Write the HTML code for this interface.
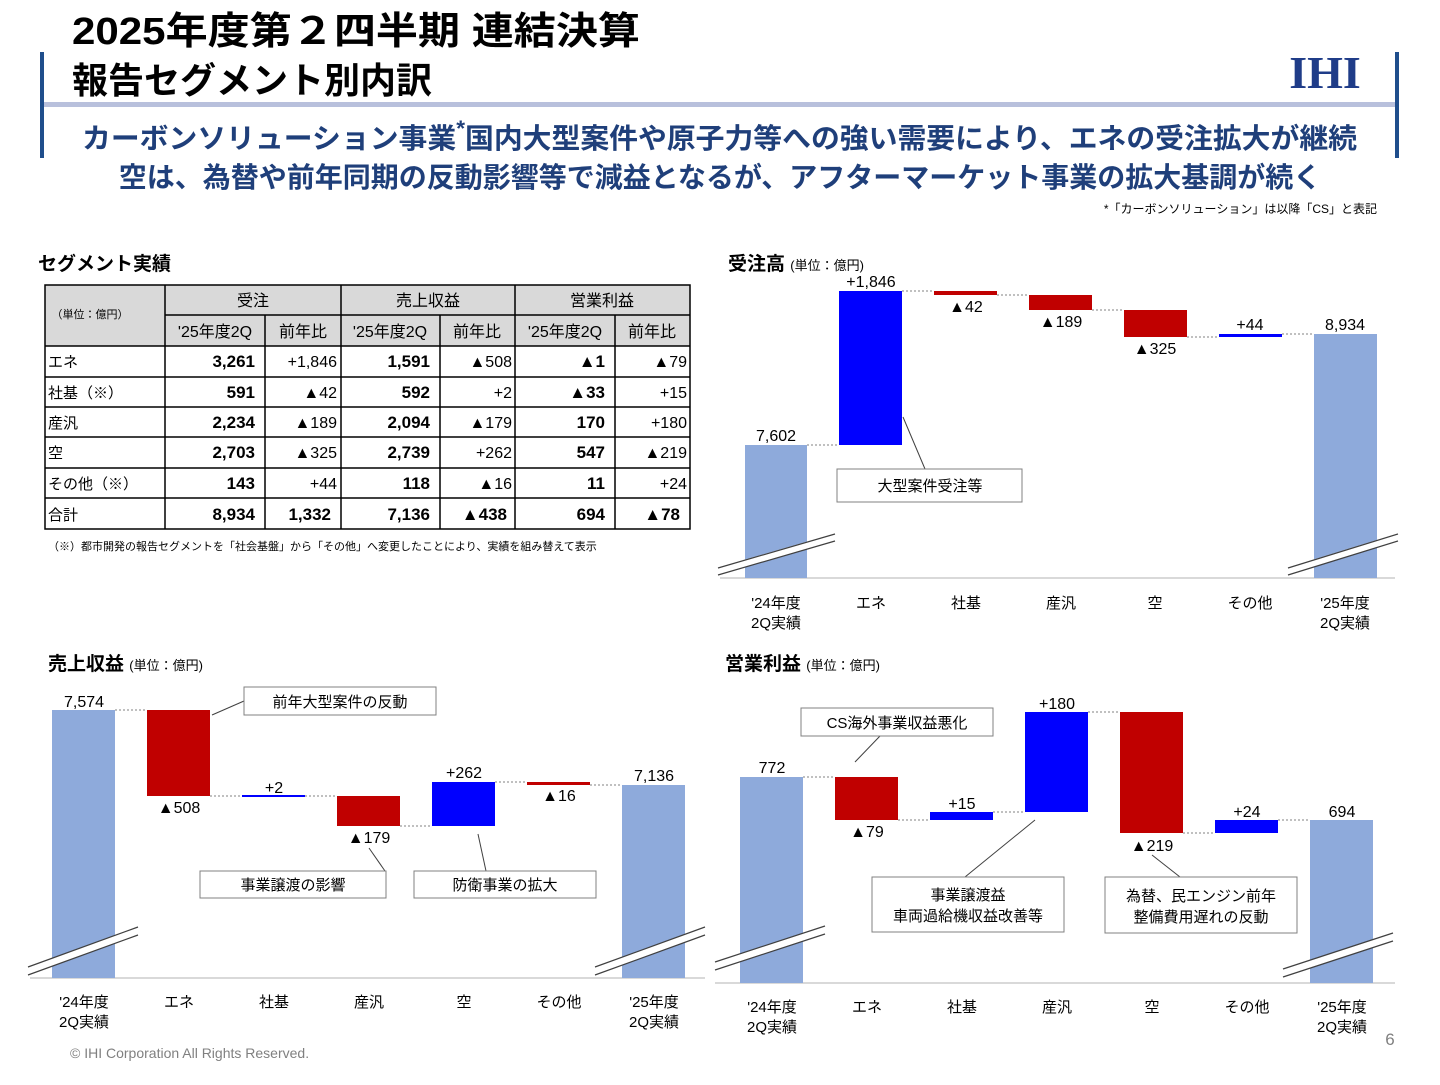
<!DOCTYPE html>
<html><head><meta charset="utf-8"><style>
body{margin:0;background:#fff;}
svg text{font-family:"Liberation Sans","Noto Sans CJK JP",sans-serif;}
</style></head><body>
<svg width="1440" height="1080" viewBox="0 0 1440 1080" xmlns="http://www.w3.org/2000/svg">
<!-- header -->
<text x="72" y="44" font-size="38" font-weight="bold" fill="#000" textLength="568" lengthAdjust="spacingAndGlyphs">2025年度第２四半期 連結決算</text>
<text x="72" y="93" font-size="36" font-weight="bold" fill="#000">報告セグメント別内訳</text>
<rect x="40" y="52" width="4" height="106" fill="#1f4e8c"/>
<rect x="1395" y="52" width="4" height="106" fill="#1f4e8c"/>
<rect x="44" y="102" width="1351" height="5" fill="#b8c0dc"/>
<text x="1325" y="88" font-size="46" font-weight="bold" fill="#1f3c88" text-anchor="middle" style="font-family:'Liberation Serif',serif">IHI</text>
<text x="82" y="148" font-size="28" font-weight="bold" fill="#1f3f7a" textLength="1275" lengthAdjust="spacingAndGlyphs">カーボンソリューション事業<tspan font-size="22" dy="-12">*</tspan><tspan dy="12">国内大型案件や原子力等への強い需要により、エネの受注拡大が継続</tspan></text>
<text x="720" y="187" font-size="28" font-weight="bold" fill="#1f3f7a" text-anchor="middle">空は、為替や前年同期の反動影響等で減益となるが、アフターマーケット事業の拡大基調が続く</text>
<text x="1377" y="213" font-size="12" fill="#000" text-anchor="end">*「カーボンソリューション」は以降「CS」と表記</text>

<!-- table -->
<text x="38" y="270" font-size="19" font-weight="bold">セグメント実績</text>
<rect x="45" y="285" width="645" height="61" fill="#d9d9d9"/>
<g stroke="#000" stroke-width="1.5" fill="none">
<rect x="45" y="285" width="645" height="244"/>
<line x1="165" y1="285" x2="165" y2="529"/>
<line x1="341" y1="285" x2="341" y2="529"/>
<line x1="515" y1="285" x2="515" y2="529"/>
<line x1="265" y1="315" x2="265" y2="529"/>
<line x1="440" y1="315" x2="440" y2="529"/>
<line x1="615" y1="315" x2="615" y2="529"/>
<line x1="165" y1="315" x2="690" y2="315"/>
<line x1="45" y1="346" x2="690" y2="346"/>
<line x1="45" y1="377" x2="690" y2="377"/>
<line x1="45" y1="407" x2="690" y2="407"/>
<line x1="45" y1="437" x2="690" y2="437"/>
<line x1="45" y1="468" x2="690" y2="468"/>
<line x1="45" y1="498" x2="690" y2="498"/>
</g>
<g font-size="16" fill="#000">
<text x="90" y="318" font-size="11" text-anchor="middle">（単位：億円）</text>
<text x="253" y="306" text-anchor="middle">受注</text>
<text x="428" y="306" text-anchor="middle">売上収益</text>
<text x="602" y="306" text-anchor="middle">営業利益</text>
<text x="215" y="337" text-anchor="middle">'25年度2Q</text>
<text x="303" y="337" text-anchor="middle">前年比</text>
<text x="390" y="337" text-anchor="middle">'25年度2Q</text>
<text x="477" y="337" text-anchor="middle">前年比</text>
<text x="565" y="337" text-anchor="middle">'25年度2Q</text>
<text x="652" y="337" text-anchor="middle">前年比</text>
<g font-size="15">
<text x="48" y="367">エネ</text><text x="48" y="398">社基（※）</text><text x="48" y="428">産汎</text><text x="48" y="458">空</text><text x="48" y="489">その他（※）</text><text x="48" y="520">合計</text>
</g>
<g font-weight="bold" text-anchor="end" font-size="17">
<text x="255" y="367">3,261</text><text x="430" y="367">1,591</text><text x="605" y="367">▲1</text>
<text x="255" y="398">591</text><text x="430" y="398">592</text><text x="605" y="398">▲33</text>
<text x="255" y="428">2,234</text><text x="430" y="428">2,094</text><text x="605" y="428">170</text>
<text x="255" y="458">2,703</text><text x="430" y="458">2,739</text><text x="605" y="458">547</text>
<text x="255" y="489">143</text><text x="430" y="489">118</text><text x="605" y="489">11</text>
<text x="255" y="520">8,934</text><text x="331" y="520">1,332</text><text x="430" y="520">7,136</text><text x="507" y="520">▲438</text><text x="605" y="520">694</text><text x="680" y="520">▲78</text>
</g>
<g text-anchor="end">
<text x="337" y="367">+1,846</text><text x="512" y="367">▲508</text><text x="687" y="367">▲79</text>
<text x="337" y="398">▲42</text><text x="512" y="398">+2</text><text x="687" y="398">+15</text>
<text x="337" y="428">▲189</text><text x="512" y="428">▲179</text><text x="687" y="428">+180</text>
<text x="337" y="458">▲325</text><text x="512" y="458">+262</text><text x="687" y="458">▲219</text>
<text x="337" y="489">+44</text><text x="512" y="489">▲16</text><text x="687" y="489">+24</text>
</g>
</g>
<text x="48" y="550" font-size="11">（※）都市開発の報告セグメントを「社会基盤」から「その他」へ変更したことにより、実績を組み替えて表示</text>

<!-- chart 1 受注高 -->
<text x="728" y="270" font-size="19" font-weight="bold">受注高 <tspan font-size="13" font-weight="normal">(単位：億円)</tspan></text>
<line x1="720" y1="578" x2="1395" y2="578" stroke="#d9d9d9" stroke-width="2"/>
<rect x="745" y="445" width="62" height="133" fill="#8eaadb"/>
<rect x="839" y="291" width="63" height="154" fill="#0000ff"/>
<rect x="934" y="291" width="63" height="4" fill="#c00000"/>
<rect x="1029" y="295" width="63" height="15" fill="#c00000"/>
<rect x="1124" y="310" width="63" height="27" fill="#c00000"/>
<rect x="1219" y="334" width="63" height="3" fill="#0000ff"/>
<rect x="1314" y="334" width="63" height="244" fill="#8eaadb"/>
<g stroke="#808080" stroke-dasharray="2,2" stroke-width="1">
<line x1="807" y1="445" x2="839" y2="445"/><line x1="902" y1="291" x2="934" y2="291"/><line x1="997" y1="295" x2="1029" y2="295"/><line x1="1092" y1="310" x2="1124" y2="310"/><line x1="1187" y1="337" x2="1219" y2="337"/><line x1="1282" y1="334" x2="1314" y2="334"/>
</g>
<g stroke="#fff" stroke-width="7"><line x1="718" y1="571" x2="835" y2="537"/><line x1="1288" y1="571" x2="1398" y2="537"/></g>
<g stroke="#404040" stroke-width="1.2"><line x1="718" y1="568" x2="835" y2="534"/><line x1="718" y1="575" x2="835" y2="541"/><line x1="1288" y1="568" x2="1398" y2="534"/><line x1="1288" y1="575" x2="1398" y2="541"/></g>
<g font-size="16" text-anchor="middle" fill="#000">
<text x="776" y="441">7,602</text><text x="871" y="287">+1,846</text><text x="966" y="312">▲42</text><text x="1061" y="327">▲189</text><text x="1155" y="354">▲325</text><text x="1250" y="330">+44</text><text x="1345" y="330">8,934</text>
</g>
<g font-size="15" text-anchor="middle" fill="#000">
<text x="776" y="608">'24年度</text><text x="776" y="628">2Q実績</text><text x="871" y="608">エネ</text><text x="966" y="608">社基</text><text x="1061" y="608">産汎</text><text x="1155" y="608">空</text><text x="1250" y="608">その他</text><text x="1345" y="608">'25年度</text><text x="1345" y="628">2Q実績</text>
</g>
<line x1="903" y1="417" x2="925" y2="469" stroke="#404040"/>
<rect x="837" y="469" width="185" height="33" fill="#fff" stroke="#808080"/>
<text x="930" y="491" font-size="15" text-anchor="middle">大型案件受注等</text>

<!-- chart 2 売上収益 -->
<text x="48" y="670" font-size="19" font-weight="bold">売上収益 <tspan font-size="13" font-weight="normal">(単位：億円)</tspan></text>
<line x1="30" y1="978" x2="705" y2="978" stroke="#d9d9d9" stroke-width="2"/>
<rect x="52" y="710" width="63" height="268" fill="#8eaadb"/>
<rect x="147" y="710" width="63" height="86" fill="#c00000"/>
<rect x="242" y="795" width="63" height="2" fill="#0000ff"/>
<rect x="337" y="796" width="63" height="30" fill="#c00000"/>
<rect x="432" y="782" width="63" height="44" fill="#0000ff"/>
<rect x="527" y="782" width="63" height="3" fill="#c00000"/>
<rect x="622" y="785" width="63" height="193" fill="#8eaadb"/>
<g stroke="#808080" stroke-dasharray="2,2">
<line x1="115" y1="710" x2="147" y2="710"/><line x1="210" y1="796" x2="242" y2="796"/><line x1="305" y1="796" x2="337" y2="796"/><line x1="400" y1="826" x2="432" y2="826"/><line x1="495" y1="782" x2="527" y2="782"/><line x1="590" y1="785" x2="622" y2="785"/>
</g>
<g stroke="#fff" stroke-width="7"><line x1="28" y1="971" x2="138" y2="931"/><line x1="595" y1="971" x2="705" y2="931"/></g>
<g stroke="#404040" stroke-width="1.2"><line x1="28" y1="967" x2="138" y2="927"/><line x1="28" y1="975" x2="138" y2="935"/><line x1="595" y1="967" x2="705" y2="927"/><line x1="595" y1="975" x2="705" y2="935"/></g>
<g font-size="16" text-anchor="middle">
<text x="84" y="707">7,574</text><text x="179" y="813">▲508</text><text x="274" y="793">+2</text><text x="369" y="843">▲179</text><text x="464" y="778">+262</text><text x="559" y="801">▲16</text><text x="654" y="781">7,136</text>
</g>
<g font-size="15" text-anchor="middle">
<text x="84" y="1007">'24年度</text><text x="84" y="1027">2Q実績</text><text x="179" y="1007">エネ</text><text x="274" y="1007">社基</text><text x="369" y="1007">産汎</text><text x="464" y="1007">空</text><text x="559" y="1007">その他</text><text x="654" y="1007">'25年度</text><text x="654" y="1027">2Q実績</text>
</g>
<g stroke="#404040"><line x1="212" y1="715" x2="244" y2="701"/><line x1="385" y1="871" x2="369" y2="848"/><line x1="478" y1="834" x2="486" y2="871"/></g>
<g fill="#fff" stroke="#808080"><rect x="244" y="687" width="192" height="28"/><rect x="200" y="871" width="186" height="27"/><rect x="414" y="871" width="182" height="27"/></g>
<g font-size="15" text-anchor="middle"><text x="340" y="707">前年大型案件の反動</text><text x="293" y="890">事業譲渡の影響</text><text x="505" y="890">防衛事業の拡大</text></g>

<!-- chart 3 営業利益 -->
<text x="725" y="670" font-size="19" font-weight="bold">営業利益 <tspan font-size="13" font-weight="normal">(単位：億円)</tspan></text>
<line x1="715" y1="983" x2="1395" y2="983" stroke="#d9d9d9" stroke-width="2"/>
<rect x="740" y="777" width="63" height="206" fill="#8eaadb"/>
<rect x="835" y="777" width="63" height="43" fill="#c00000"/>
<rect x="930" y="812" width="63" height="8" fill="#0000ff"/>
<rect x="1025" y="712" width="63" height="100" fill="#0000ff"/>
<rect x="1120" y="712" width="63" height="121" fill="#c00000"/>
<rect x="1215" y="820" width="63" height="13" fill="#0000ff"/>
<rect x="1310" y="820" width="63" height="163" fill="#8eaadb"/>
<g stroke="#808080" stroke-dasharray="2,2">
<line x1="803" y1="777" x2="835" y2="777"/><line x1="898" y1="820" x2="930" y2="820"/><line x1="993" y1="812" x2="1025" y2="812"/><line x1="1088" y1="712" x2="1120" y2="712"/><line x1="1183" y1="833" x2="1215" y2="833"/><line x1="1278" y1="820" x2="1310" y2="820"/>
</g>
<g stroke="#fff" stroke-width="7"><line x1="715" y1="966" x2="825" y2="930"/><line x1="1283" y1="973" x2="1393" y2="937"/></g>
<g stroke="#404040" stroke-width="1.2"><line x1="715" y1="962" x2="825" y2="926"/><line x1="715" y1="970" x2="825" y2="934"/><line x1="1283" y1="969" x2="1393" y2="933"/><line x1="1283" y1="977" x2="1393" y2="941"/></g>
<g font-size="16" text-anchor="middle">
<text x="772" y="773">772</text><text x="867" y="837">▲79</text><text x="962" y="809">+15</text><text x="1057" y="709">+180</text><text x="1152" y="851">▲219</text><text x="1247" y="817">+24</text><text x="1342" y="817">694</text>
</g>
<g font-size="15" text-anchor="middle">
<text x="772" y="1012">'24年度</text><text x="772" y="1032">2Q実績</text><text x="867" y="1012">エネ</text><text x="962" y="1012">社基</text><text x="1057" y="1012">産汎</text><text x="1152" y="1012">空</text><text x="1247" y="1012">その他</text><text x="1342" y="1012">'25年度</text><text x="1342" y="1032">2Q実績</text>
</g>
<g stroke="#404040"><line x1="880" y1="736" x2="855" y2="762"/><line x1="965" y1="877" x2="1035" y2="820"/><line x1="1180" y1="877" x2="1152" y2="855"/></g>
<g fill="#fff" stroke="#808080"><rect x="801" y="708" width="192" height="28"/><rect x="872" y="877" width="192" height="55"/><rect x="1105" y="877" width="192" height="56"/></g>
<g font-size="15" text-anchor="middle"><text x="897" y="728">CS海外事業収益悪化</text><text x="968" y="900">事業譲渡益</text><text x="968" y="921">車両過給機収益改善等</text><text x="1201" y="901">為替、民エンジン前年</text><text x="1201" y="922">整備費用遅れの反動</text></g>

<!-- footer -->
<text x="70" y="1058" font-size="14" fill="#808080">© IHI Corporation All Rights Reserved.</text>
<text x="1390" y="1045" font-size="17" fill="#808080" text-anchor="middle">6</text>
</svg>
</body></html>
